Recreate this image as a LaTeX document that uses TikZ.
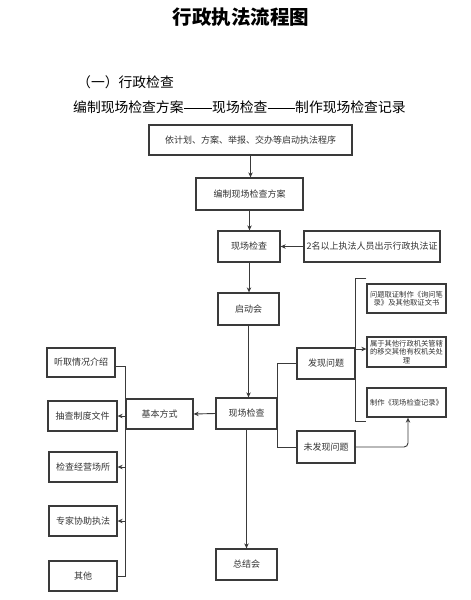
\documentclass[tikz,border=0pt]{standalone}
\usepackage{fontspec}
\newfontfamily\cjk{Noto Sans CJK SC}
\usetikzlibrary{arrows.meta}
\definecolor{bordc}{HTML}{3A3A3A}
\definecolor{txtc}{HTML}{333333}
\begin{document}
\begin{tikzpicture}[x=1pt,y=-1pt,
  box/.style={draw=bordc,line width=1.3pt,inner sep=0pt,text=txtc,font=\cjk\fontsize{9}{11}\selectfont,align=center},
  smallbox/.style={box,font=\cjk\fontsize{7.3}{8.3}\selectfont},
  conn/.style={draw=bordc,line width=0.9pt},
  arr/.style={conn,-{Stealth[length=5pt,width=4.5pt]}},
  head/.style={inner sep=0pt,font=\cjk\fontsize{13.8}{16}\selectfont}]
\useasboundingbox (0,0) rectangle (471,600);
\fill[white] (0,0) rectangle (471,600);
% headings
\node[inner sep=0pt,font=\cjk\bfseries\fontsize{19.5}{22}\selectfont] (title) at (241,17) {行政执法流程图};
\node[head,anchor=west] (sub) at (77,82) {（一）行政检查};
\node[head,anchor=west] (h1) at (73,107) {编制现场检查方案};
\node[head,anchor=west] (h2) at (212,107) {现场检查};
\node[head,anchor=west] (h3) at (295,107) {制作现场检查记录};
\draw[line width=0.9pt] ([yshift=-1pt]h1.east) -- ([yshift=-1pt]h2.west);
\draw[line width=0.9pt] ([yshift=-1pt]h2.east) -- ([yshift=-1pt]h3.west);
% main column
\node[box,minimum width=203pt,minimum height=30pt] (b1) at (250.5,140) {依计划、方案、举报、交办等启动执法程序};
\node[box,minimum width=107pt,minimum height=32pt] (b2) at (249.5,194) {编制现场检查方案};
\node[box,minimum width=62pt,minimum height=31pt] (b3) at (249,246.5) {现场检查};
\node[box,minimum width=136pt,minimum height=31pt] (b4) at (372,246.5) {2名以上执法人员出示行政执法证};
\node[box,minimum width=61pt,minimum height=32pt] (b5) at (248.5,309) {启动会};
\node[box,minimum width=61pt,minimum height=31pt] (b6) at (246.5,413.5) {现场检查};
\node[box,minimum width=61pt,minimum height=31pt] (zj) at (246.5,564.5) {总结会};
% right side
\node[box,minimum width=58pt,minimum height=31pt] (fx) at (326,363.5) {发现问题};
\node[box,minimum width=58pt,minimum height=32pt] (wf) at (326,447) {未发现问题};
\node[smallbox,minimum width=79pt,minimum height=29pt] (q1) at (406.5,298.5) {问题取证制作《询问笔\\录》及其他取证文书};
\node[smallbox,minimum width=79pt,minimum height=30pt] (q2) at (406.5,352) {属于其他行政机关管辖\\的移交其他有权机关处\\理};
\node[smallbox,minimum width=79pt,minimum height=29pt] (q3) at (406.5,402.5) {制作《现场检查记录》};
\coordinate (k1) at ([yshift=5pt]q1.north west);
\coordinate (k2) at ([yshift=3pt]q2.west);
\coordinate (k3) at ([yshift=-4pt]q3.south west);
% left side
\node[box,minimum width=67pt,minimum height=30pt] (jb) at (159.5,414) {基本方式};
\node[box,minimum width=68pt,minimum height=29pt] (L1) at (81,362.5) {听取情况介绍};
\node[box,minimum width=69pt,minimum height=30pt] (L2) at (82.5,416) {抽查制度文件};
\node[box,minimum width=68pt,minimum height=30pt] (L3) at (83,467) {检查经营场所};
\node[box,minimum width=68pt,minimum height=30pt] (L4) at (83,521) {专家协助执法};
\node[box,minimum width=68pt,minimum height=30pt] (L5) at (83,576) {其他};
\coordinate (m1) at ([yshift=-3.5pt]L1.east);
% connectors main
\draw[arr] (b1.south) -- (b1.south |- b2.north);
\draw[arr] (b2.south) -- (b2.south |- b3.north);
\draw[arr] (b4.west) -- (b3.east);
\draw[arr] (b3.south) -- (b3.south |- b5.north);
\draw[arr] (b5.south) -- (b5.south |- b6.north);
\draw[arr] (b6.south) -- (b6.south |- zj.north);
% right brackets
\draw[conn] (fx.west) -- (b6.east |- fx.west) -- (b6.east |- wf.west) -- (wf.west);
\draw[conn] (k1) -- (fx.east |- k1) -- (fx.east |- k3) -- (k3);
\draw[arr] (fx.east |- k2) -- (k2);
\draw[arr,rounded corners=4pt] (wf.east) -| ([xshift=1.5pt]q3.south);
% left bracket
\draw[arr] (b6.west) -- (jb.east);
\draw[conn] (m1) -| (jb.west |- L5.east) -- (L5.east);
\draw[arr] (jb.west |- L2.east) -- (L2.east);
\draw[arr] (jb.west |- L3.east) -- (L3.east);
\draw[arr] (jb.west |- L4.east) -- (L4.east);
\end{tikzpicture}
\end{document}
